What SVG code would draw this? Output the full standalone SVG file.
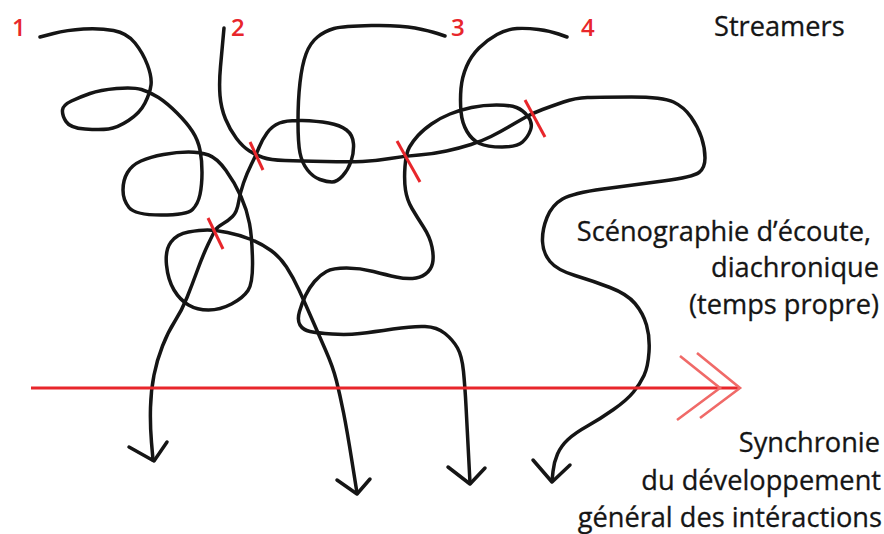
<svg xmlns="http://www.w3.org/2000/svg" width="884" height="534" viewBox="0 0 884 534">
<style>
.s{fill:none;stroke:#151515;stroke-width:3.5;stroke-linecap:round;stroke-linejoin:round}
.m{fill:none;stroke:#e8262b;stroke-width:3;stroke-linecap:butt}
.ax{fill:none;stroke:#e8262b;stroke-width:3.2}
.ch{fill:none;stroke:#f06a68;stroke-width:2.6;stroke-linejoin:miter}
.num{font-family:"Open Sans","Noto Sans",sans-serif;font-size:24px;font-weight:600;fill:#e8262b}
.t{font-family:"Open Sans","Noto Sans",sans-serif;font-size:27.2px;fill:#151515;stroke:#151515;stroke-width:0.3}
</style>
<rect width="884" height="534" fill="#ffffff"/>
<g id="streams">
<g id="stream-1">
<path class="s" d="M40,37 L53.5,33.5 Q67,30 83.5,29 Q100,28 113.5,30.5 Q127,33 135,43 Q143,53 147.5,65 Q152,77 151,85 Q150,93 145,103 Q140,113 128.5,120.5 Q117,128 108.5,129 Q100,130 85,129 Q70,128 66,121.5 Q62,115 62.5,110 Q63,105 71.5,101 Q80,97 90,93.5 Q100,90 116.5,88.5 Q133,87 141.5,89.5 Q150,92 158.5,97.5 Q167,103 177,113 Q187,123 192.5,131.5 Q198,140 200,150 Q202,160 202,172.5 Q202,185 200,194.5 Q198,204 192.5,209.5 Q187,215 161,215 Q135,215 129,207.5 Q123,200 123,190 Q123,180 127.5,172.5 Q132,165 141,161 Q150,157 163.5,154.5 Q177,152 188.5,152 Q200,152 208.5,155 Q217,158 226,170.5 Q235,183 241,196.5 Q247,210 249.5,223.5 Q252,237 252.5,260 Q253,283 248,290.5 Q243,298 231.5,304 Q220,310 208.5,310 Q197,310 188.5,305 Q180,300 174,290 Q168,280 166.5,265 Q165,250 171,242 Q177,234 188.5,232 Q200,230 207.5,230 Q215,230 227.5,232.5 Q240,235 251,239.5 Q262,244 271,250.5 Q280,257 286.5,267 Q293,277 299,290 Q305,303 311.5,318 Q318,333 325.5,350 Q333,367 336.5,381 Q340,395 343.5,412.5 Q347,430 352,461.5 L357,493"/>
<polyline class="s" points="337,480 357,494 370,479"/>
</g>
<g id="stream-2">
<path class="s" d="M224,28 L223,39 Q222,50 220.5,66.5 Q219,83 220,95.5 Q221,108 225.5,119 Q230,130 236.5,138.5 Q243,147 249.5,151 Q256,155 263,157.5 Q270,160 285,160.5 Q300,161 325,161.5 Q350,162 362.5,161.5 Q375,161 390,158.5 Q405,156 419,155 Q433,154 446.5,151 Q460,148 471,144.5 Q482,141 491,136.5 Q500,132 508.5,127 Q517,122 525,117.5 Q533,113 542.5,109.5 Q552,106 563.5,102 Q575,98 587.5,97.5 Q600,97 631.5,97 Q663,97 673.5,102 Q684,107 691,117 Q698,127 701.5,137.5 Q705,148 705,158 Q705,168 699,172.5 Q693,177 663,181 Q633,185 603,189 Q573,193 562.5,199 Q552,205 547,217.5 Q542,230 542.5,241.5 Q543,253 550,261.5 Q557,270 575,275.5 Q593,281 610,287.5 Q627,294 635,303.5 Q643,313 646.5,325 Q650,337 649,352 Q648,367 644,375.5 Q640,384 633.5,392 Q627,400 613.5,409.5 Q600,419 587.5,426 Q575,433 568,439.5 Q561,446 557.5,454 Q554,462 553,471.5 L552,481"/>
<polyline class="s" points="533,460 552,482 570,465"/>
</g>
<g id="stream-3">
<path class="s" d="M445,36 L437.5,33.5 Q430,31 415,28 Q400,25 371.5,25.5 Q343,26 334,28.5 Q325,31 317.5,37 Q310,43 306,54 Q302,65 300,82.5 Q298,100 298,121.5 Q298,143 300,153 Q302,163 307.5,170 Q313,177 320,179.5 Q327,182 332,182 Q337,182 342.5,176 Q348,170 351,161.5 Q354,153 353.5,144 Q353,135 346.5,130 Q340,125 328.5,123 Q317,121 302,120.5 Q287,120 279.5,123 Q272,126 267,133 Q262,140 259,147.5 Q256,155 251.5,164 Q247,173 243.5,183 Q240,193 238.5,202.5 Q237,212 232.5,216.5 Q228,221 222.5,224 Q217,227 215,230.5 Q213,234 208,244.5 Q203,255 197.5,270 Q192,285 187,297.5 Q182,310 175,321 Q168,332 162.5,346 Q157,360 154,375 Q151,390 150.5,407.5 Q150,425 151.5,442.5 L153,460"/>
<polyline class="s" points="129,447 154,461 167,442"/>
</g>
<g id="stream-4">
<path class="s" d="M567,37 L558.5,34 Q550,31 538.5,29.5 Q527,28 517,28.5 Q507,29 497,34.5 Q487,40 479,48 Q471,56 466.5,66.5 Q462,77 461,88.5 Q460,100 461,111.5 Q462,123 467,131.5 Q472,140 479.5,143.5 Q487,147 502,147 Q517,147 522.5,142 Q528,137 530.5,130 Q533,123 528,116.5 Q523,110 516.5,107.5 Q510,105 496.5,105 Q483,105 471.5,107.5 Q460,110 450,114 Q440,118 431.5,124 Q423,130 418,135.5 Q413,141 409.5,147 Q406,153 405,166.5 Q404,180 405.5,190 Q407,200 412,208.5 Q417,217 423.5,227 Q430,237 432,247 Q434,257 432.5,263.5 Q431,270 425.5,274 Q420,278 412.5,278.5 Q405,279 396,277 Q387,275 373.5,271.5 Q360,268 346.5,268 Q333,268 326.5,271.5 Q320,275 314.5,281.5 Q309,288 305.5,295.5 Q302,303 299.5,311.5 Q297,320 300,325 Q303,330 310,331.5 Q317,333 332,334 Q347,335 360,333.5 Q373,332 393,329 Q413,326 425,326.5 Q437,327 445,333.5 Q453,340 457.5,348 Q462,356 463.5,371.5 Q465,387 466,406 Q467,425 468.5,454 L470,483"/>
<polyline class="s" points="448,467 470,484 485,468"/>
</g>
</g>
<g id="crossing-marks">
<line class="m" x1="250" y1="142" x2="263" y2="170"/>
<line class="m" x1="208" y1="218" x2="223" y2="249"/>
<line class="m" x1="397" y1="141" x2="420" y2="182"/>
<line class="m" x1="525" y1="100" x2="545" y2="137"/>
</g>
<g id="time-axis">
<line class="ax" x1="31" y1="388" x2="738" y2="388"/>
<polyline class="ch" points="680,356 720,388 677,420"/>
<polyline class="ch" points="697,353 740,388 700,418"/>
</g>
<g id="labels">
<text class="num" x="12" y="36">1</text>
<text class="num" x="231" y="36">2</text>
<text class="num" x="451" y="36">3</text>
<text class="num" x="581" y="36">4</text>
<text class="t" x="714" y="36">Streamers</text>
<text class="t" text-anchor="end" x="871" y="241">Scénographie d’écoute,</text>
<text class="t" text-anchor="end" x="879" y="277">diachronique</text>
<text class="t" text-anchor="end" x="879" y="314">(temps propre)</text>
<text class="t" text-anchor="end" x="880" y="452">Synchronie</text>
<text class="t" text-anchor="end" x="881" y="490">du développement</text>
<text class="t" text-anchor="end" x="882" y="527">général des intéractions</text>
</g>
</svg>
